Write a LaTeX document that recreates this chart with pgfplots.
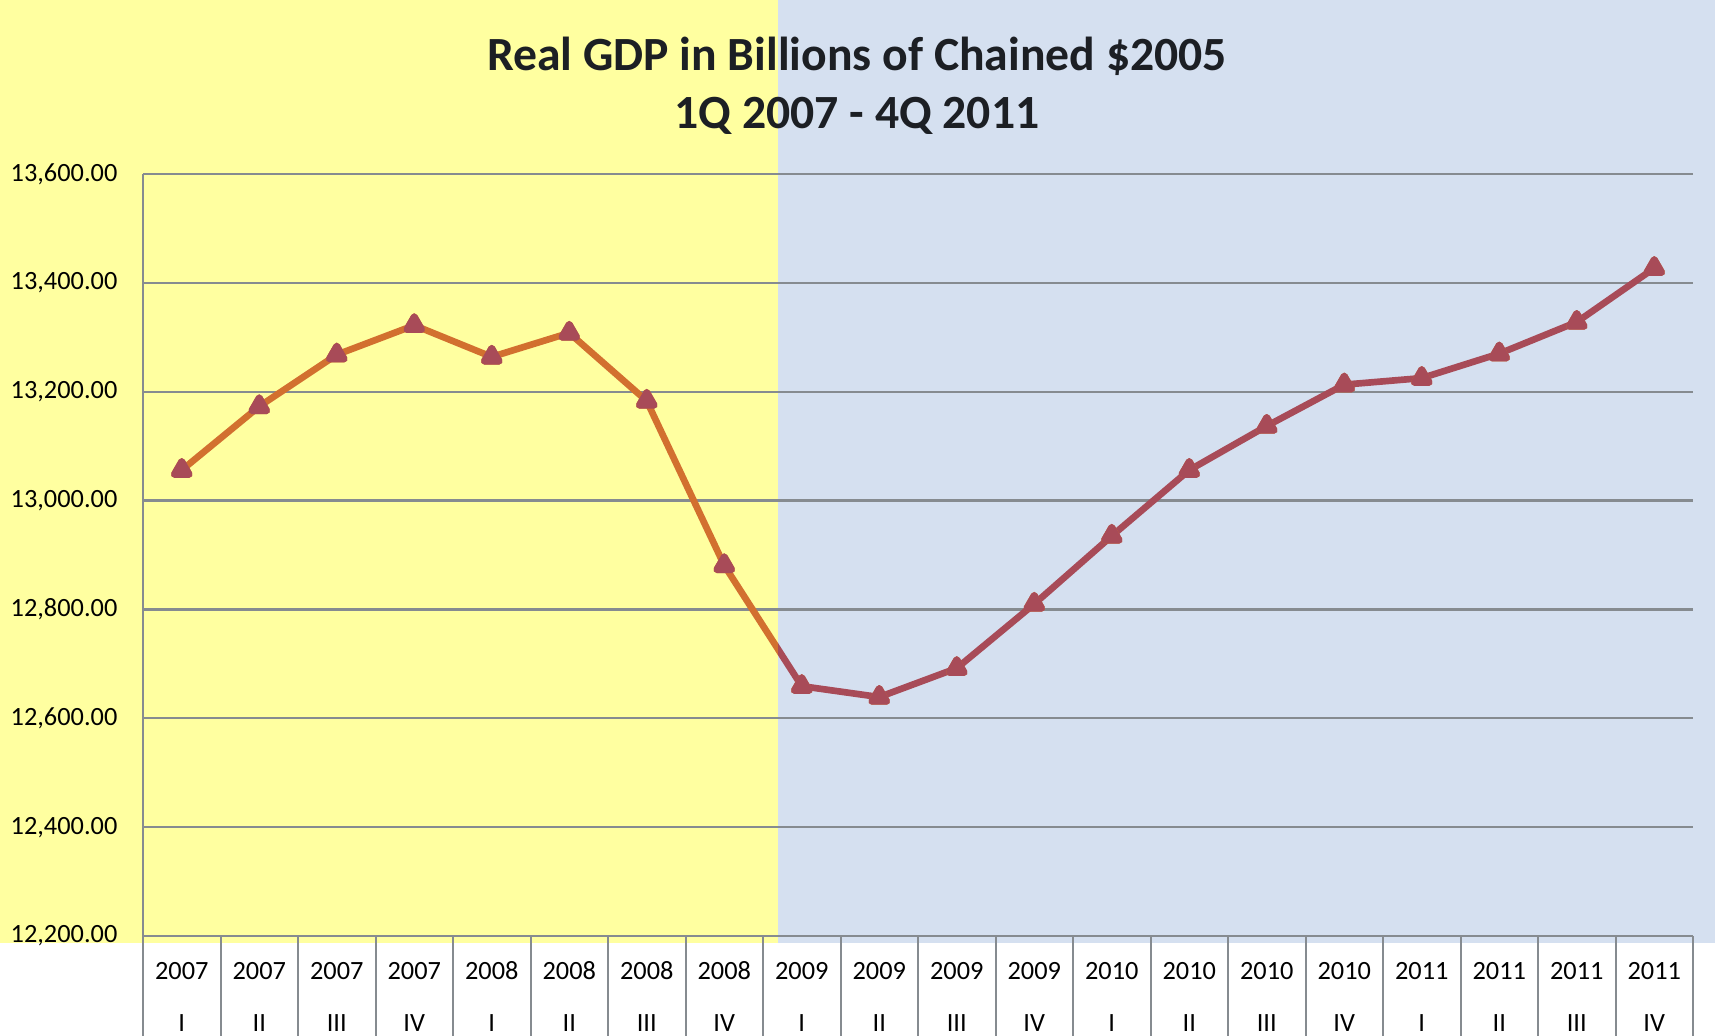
\documentclass[border=0pt]{standalone}
\usepackage{fontspec}
\setmainfont{Carlito}
\usepackage{pgfplots}
\pgfplotsset{compat=1.18}
\usepackage{pgfplotstable}
\definecolor{bgyellow}{HTML}{FFFFA0}
\definecolor{bgblue}{HTML}{D5E0F0}
\definecolor{gridgray}{HTML}{868B90}
\definecolor{lineorange}{HTML}{D2702F}
\definecolor{linemaroon}{HTML}{A84B58}
\definecolor{titlecol}{HTML}{1C1F24}
\pgfplotstableread{
x y
0 13056
1 13173
2 13268
3 13322
4 13264
5 13308
6 13183
7 12881
8 12659
9 12639
10 12692
11 12810
12 12935
13 13056
14 13137
15 13213
16 13225
17 13270
18 13328
19 13427
}\gdp
\begin{document}
\begin{tikzpicture}[x=0.3pt,y=0.3pt]
\useasboundingbox (0,0) rectangle (1715,1036);
\fill[white] (0,0) rectangle (1715,1036);
\fill[bgyellow] (0,93) rectangle (778,1036);
\fill[bgblue] (778,93) rectangle (1715,1036);
\node[font=\fontsize{14.3}{17.4}\selectfont\bfseries, align=center, text=titlecol] at (857,950) {Real GDP in Billions of Chained \$2005\\1Q 2007 - 4Q 2011};
\begin{axis}[
  at={(42.9pt,30pt)}, anchor=south west,
  scale only axis, width=465pt, height=228.6pt,
  xmin=-0.5, xmax=19.5, ymin=12200, ymax=13600,
  axis x line*=bottom, axis y line*=left,
  axis line style={gridgray, line width=0.8pt},
  xtick={0,...,19},
  xticklabels={{2007\\I},{2007\\II},{2007\\III},{2007\\IV},{2008\\I},{2008\\II},{2008\\III},{2008\\IV},{2009\\I},{2009\\II},{2009\\III},{2009\\IV},{2010\\I},{2010\\II},{2010\\III},{2010\\IV},{2011\\I},{2011\\II},{2011\\III},{2011\\IV}},
  minor xtick={-0.5,0.5,...,19.5},
  tick align=outside,
  major tick length=0pt,
  minor tick length=30pt,
  minor tick style={draw=gridgray, line width=0.6pt},
  major tick style={draw=none},
  xticklabel style={align=center, anchor=center, yshift=-18.3pt, font=\fontsize{7.9}{15.6}\selectfont},
  ytick={12200,12400,...,13600},
  scaled y ticks=false,
  yticklabel style={anchor=east, inner sep=0pt, xshift=-7.5pt, font=\fontsize{7.9}{9}\selectfont,
    /pgf/number format/fixed, /pgf/number format/fixed zerofill, /pgf/number format/precision=2,
    /pgf/number format/1000 sep={,}, /pgf/number format/assume math mode=true},
  ymajorgrids,
  major grid style={gridgray, line width=0.7pt},
  clip=false,
]
\begin{scope}
\clip (rel axis cs:0,-0.05) rectangle (rel axis cs:0.4097,1.05);
\addplot[lineorange, line width=2pt, line join=round, mark=triangle*, mark size=2.6pt, mark options={solid, fill=lineorange, draw=lineorange}] table[x=x,y=y] {\gdp};
\end{scope}
\begin{scope}
\clip (rel axis cs:0.4097,-0.05) rectangle (rel axis cs:1.05,1.05);
\addplot[linemaroon, line width=2pt, line join=round, mark=triangle*, mark size=2.6pt, mark options={solid, fill=linemaroon, draw=linemaroon}] table[x=x,y=y] {\gdp};
\end{scope}
\end{axis}
\end{tikzpicture}
\end{document}
